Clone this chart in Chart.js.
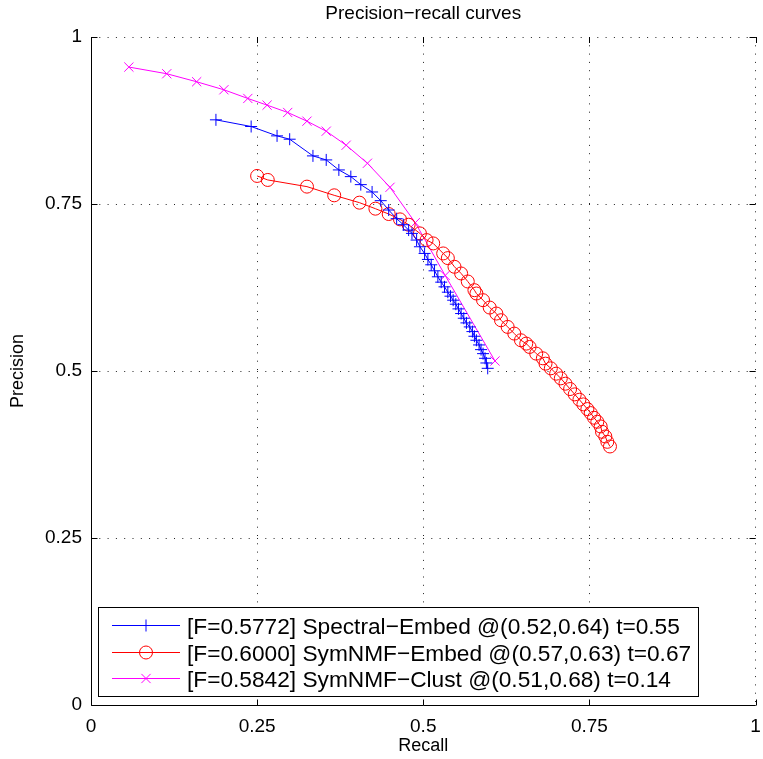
<!DOCTYPE html>
<html>
<head>
<meta charset="utf-8">
<title>Precision-recall curves</title>
<script src="https://cdn.jsdelivr.net/npm/chart.js@4.4.1/dist/chart.umd.min.js"></script>
<style>
    html, body { margin: 0; padding: 0; background: #ffffff; }
    #wrap { width: 763px; height: 759px; }
</style>
</head>
<body>
<div id="wrap"><canvas id="prChart" width="763" height="759"></canvas></div>
<script>
// Precision / recall pairs for each method
const spectralRecall = [0.188, 0.241, 0.280, 0.299, 0.334, 0.354, 0.373, 0.391, 0.406, 0.423,
    0.436, 0.448, 0.460, 0.470, 0.478, 0.483, 0.490, 0.495, 0.502, 0.507,
    0.512, 0.517, 0.522, 0.527, 0.532, 0.537, 0.541, 0.545, 0.549, 0.553,
    0.557, 0.561, 0.565, 0.570, 0.574, 0.577, 0.580, 0.584, 0.587, 0.590,
    0.593, 0.595, 0.597];
const spectralPrecision = [0.876, 0.866, 0.852, 0.847, 0.822, 0.816, 0.801, 0.791, 0.779, 0.768,
    0.755, 0.741, 0.728, 0.719, 0.711, 0.706, 0.696, 0.686, 0.676, 0.667,
    0.659, 0.650, 0.641, 0.633, 0.626, 0.618, 0.612, 0.606, 0.600, 0.593,
    0.586, 0.579, 0.572, 0.566, 0.559, 0.552, 0.546, 0.539, 0.532, 0.526,
    0.519, 0.512, 0.504];

const embedRecall = [0.250, 0.266, 0.325, 0.366, 0.404, 0.428, 0.448, 0.465, 0.478, 0.495,
    0.505, 0.515, 0.530, 0.537, 0.547, 0.557, 0.567, 0.577, 0.580, 0.590,
    0.600, 0.610, 0.617, 0.627, 0.637, 0.647, 0.655, 0.660, 0.670, 0.680,
    0.684, 0.692, 0.700, 0.707, 0.714, 0.721, 0.728, 0.735, 0.741, 0.747,
    0.752, 0.757, 0.762, 0.767, 0.769, 0.774, 0.777, 0.781];
const embedPrecision = [0.792, 0.786, 0.776, 0.763, 0.752, 0.743, 0.735, 0.727, 0.719, 0.706,
    0.696, 0.691, 0.676, 0.669, 0.656, 0.646, 0.634, 0.621, 0.616, 0.606,
    0.595, 0.586, 0.576, 0.566, 0.556, 0.546, 0.541, 0.536, 0.526, 0.519,
    0.511, 0.504, 0.496, 0.489, 0.481, 0.473, 0.465, 0.457, 0.450, 0.443,
    0.437, 0.430, 0.424, 0.417, 0.409, 0.402, 0.394, 0.387];

const clustRecall = [0.057, 0.114, 0.159, 0.200, 0.236, 0.265, 0.296, 0.325, 0.354, 0.384,
    0.416, 0.450, 0.488, 0.533, 0.608];
const clustPrecision = [0.955, 0.945, 0.933, 0.921, 0.908, 0.898, 0.887, 0.874, 0.859, 0.838,
    0.811, 0.775, 0.722, 0.643, 0.515];

const seriesLabels = [
    "[F=0.5772] Spectral\u2212Embed @(0.52,0.64) t=0.55",
    "[F=0.6000] SymNMF\u2212Embed @(0.57,0.63) t=0.67",
    "[F=0.5842] SymNMF\u2212Clust @(0.51,0.68) t=0.14"
];
const tickValues = [0, 0.25, 0.5, 0.75, 1];
const tickLabels = ["0", "0.25", "0.5", "0.75", "1"];
const titleText = "Precision\u2212recall curves";

const FONT = "'Liberation Sans', Arial, Helvetica, sans-serif";

function toPoints(xs, ys) {
    return xs.map((x, i) => ({ x: x, y: ys[i] }));
}

function labelFor(value) {
    const i = tickValues.findIndex(v => Math.abs(v - value) < 1e-9);
    return i >= 0 ? tickLabels[i] : "";
}

// Title over the axes, solid left/bottom axis lines with inner ticks,
// and a boxed legend in the lower left corner of the axes
const axesDecor = {
    id: "axesDecor",
    afterDraw(chart) {
        const ctx = chart.ctx;
        const area = chart.chartArea;
        const xs = chart.scales.x, ys = chart.scales.y;

        ctx.save();
        ctx.fillStyle = "#000000";
        ctx.font = "19px " + FONT;
        ctx.textAlign = "center";
        ctx.textBaseline = "middle";
        ctx.fillText(titleText, (area.left + area.right) / 2, 14);

        ctx.strokeStyle = "#000000";
        ctx.lineWidth = 1;
        ctx.setLineDash([]);
        ctx.beginPath();
        const ax = Math.round(area.left) + 0.5;
        const ay = Math.round(area.bottom) + 0.5;
        ctx.moveTo(ax, area.top);
        ctx.lineTo(ax, ay);
        ctx.lineTo(area.right, ay);
        tickValues.forEach(v => {
            const px = Math.round(xs.getPixelForValue(v)) + 0.5;
            ctx.moveTo(px, ay);
            ctx.lineTo(px, ay - 6);
            ctx.moveTo(px, area.top);
            ctx.lineTo(px, area.top + 6);
            const py = Math.round(ys.getPixelForValue(v)) + 0.5;
            ctx.moveTo(ax, py);
            ctx.lineTo(ax + 6, py);
            ctx.moveTo(area.right, py);
            ctx.lineTo(area.right - 6, py);
        });
        ctx.stroke();

        const left = 98.5, top = 607.5, width = 600, height = 89;
        ctx.fillStyle = "#ffffff";
        ctx.fillRect(left, top, width, height);
        ctx.strokeRect(left, top, width, height);

        const rowY = [625, 652, 678];
        chart.data.datasets.forEach((ds, i) => {
            const y = rowY[i] + 0.5;
            ctx.strokeStyle = ds.borderColor;
            ctx.lineWidth = 1;
            ctx.beginPath();
            ctx.moveTo(112, y);
            ctx.lineTo(180, y);
            ctx.stroke();
            ctx.fillStyle = ds.backgroundColor;
            Chart.helpers.drawPoint(ctx, {
                pointStyle: ds.pointStyle,
                radius: ds.pointRadius,
                borderWidth: 1
            }, 146, y);
            ctx.fillStyle = "#000000";
            ctx.font = "22.7px " + FONT;
            ctx.textAlign = "left";
            ctx.textBaseline = "middle";
            ctx.fillText(seriesLabels[i], 187, y + 2);
        });
        ctx.restore();
    }
};

const gridLine = {
    color: ctx => (ctx.tick && ctx.tick.value === 0 ? "rgba(0,0,0,0)" : "#222222"),
    lineWidth: 1,
    drawTicks: false,
};
const gridBorder = { display: false, dash: [1, 7.3] };

new Chart(document.getElementById("prChart").getContext("2d"), {
    type: "scatter",
    data: {
        datasets: [
            {
                label: seriesLabels[0],
                data: toPoints(spectralRecall, spectralPrecision),
                borderColor: "#0000ff",
                backgroundColor: "#0000ff",
                pointStyle: "cross",
                pointRadius: 6,
                pointBorderWidth: 1,
            },
            {
                label: seriesLabels[1],
                data: toPoints(embedRecall, embedPrecision),
                borderColor: "#ff0000",
                backgroundColor: "rgba(0,0,0,0)",
                pointStyle: "circle",
                pointRadius: 6.5,
                pointBorderWidth: 1,
            },
            {
                label: seriesLabels[2],
                data: toPoints(clustRecall, clustPrecision),
                borderColor: "#ff00ff",
                backgroundColor: "#ff00ff",
                pointStyle: "crossRot",
                pointRadius: 6.5,
                pointBorderWidth: 1,
            },
        ].map(ds => Object.assign(ds, { showLine: true, borderWidth: 1, tension: 0, fill: false })),
    },
    options: {
        responsive: false,
        animation: false,
        devicePixelRatio: 1,
        layout: { padding: { top: 37, right: 4, bottom: 0, left: 0 } },
        plugins: {
            legend: { display: false },
            tooltip: { enabled: false },
            title: { display: false },
        },
        scales: {
            x: {
                type: "linear",
                min: 0,
                max: 1,
                afterBuildTicks: scale => { scale.ticks = tickValues.map(v => ({ value: v })); },
                afterFit: scale => { scale.height = 54; scale.paddingLeft = 0; scale.paddingRight = 0; },
                ticks: {
                    color: "#000000",
                    padding: 10,
                    font: { family: FONT, size: 19 },
                    callback: v => labelFor(v),
                },
                grid: gridLine,
                border: gridBorder,
                title: {
                    display: true,
                    text: "Recall",
                    color: "#000000",
                    font: { family: FONT, size: 18 },
                    padding: { top: 0, bottom: 2 },
                },
            },
            y: {
                type: "linear",
                min: 0,
                max: 1,
                afterBuildTicks: scale => { scale.ticks = tickValues.map(v => ({ value: v })); },
                afterFit: scale => { scale.width = 91; scale.paddingTop = 0; scale.paddingBottom = 0; },
                ticks: {
                    color: "#000000",
                    padding: 9,
                    font: { family: FONT, size: 19 },
                    callback: v => labelFor(v),
                },
                grid: gridLine,
                border: gridBorder,
                title: {
                    display: true,
                    text: "Precision",
                    color: "#000000",
                    font: { family: FONT, size: 18 },
                    padding: { top: 7, bottom: 0 },
                },
            },
        },
    },
    plugins: [axesDecor],
});
</script>
</body>
</html>
